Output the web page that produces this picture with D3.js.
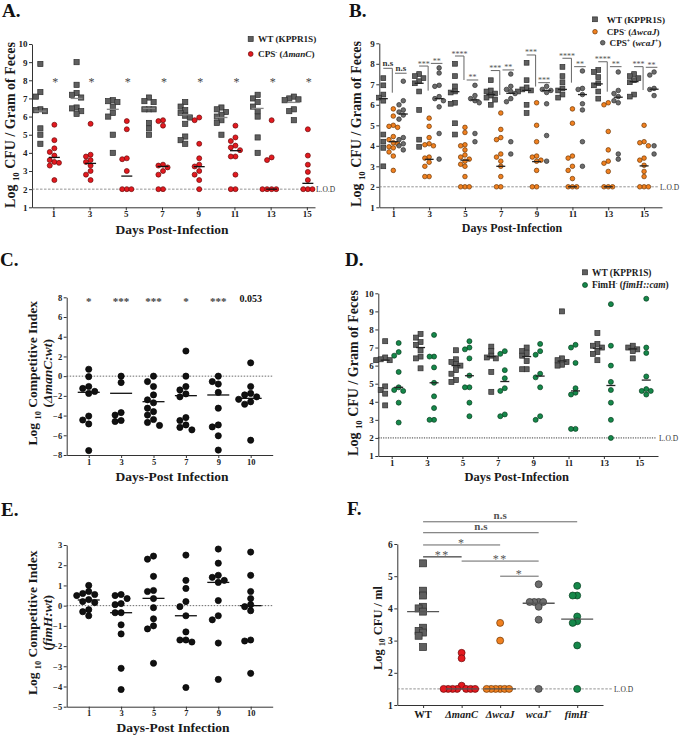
<!DOCTYPE html>
<html>
<head>
<meta charset="utf-8">
<script src="https://cdn.jsdelivr.net/npm/d3@7"></script>
<style>
  body { margin: 0; background: #fff; }
</style>
</head>
<body>
<svg id="fig" width="681" height="736"></svg>
<script>
// Colonization figure, panels A-F, drawn with D3 v7

// -----------------------------------------------------------------------------
// DATA
// -----------------------------------------------------------------------------

const daysAB = [1, 3, 5, 7, 9, 11, 13, 15];
const ticksA = [1, 2, 3, 4, 5, 6, 7, 8, 9, 10];
const ticksB = [1, 2, 3, 4, 5, 6, 7, 8, 9];

// A: WT vs CPS- (manC)
const wtA = [
  [8.9, 7.35, 7.1, 6.4, 6.35, 6.3, 5.35, 5.0, 4.5],
  [9.0, 7.75, 7.3, 7.2, 7.05, 6.5, 6.45, 6.3, 6.15],
  [6.9, 6.85, 6.8, 6.55, 6.2, 6.0, 5.0, 4.0],
  [7.05, 6.85, 6.8, 6.4, 6.4, 6.4, 5.65, 5.35, 5.0],
  [6.8, 6.55, 6.35, 6.2, 6.05, 5.95, 5.6, 4.9, 4.7, 4.5],
  [6.5, 6.4, 6.25, 6.1, 6.0, 5.8, 5.65, 5.0],
  [7.2, 7.0, 6.8, 6.55, 6.3, 6.0, 4.85, 4.0],
  [7.1, 7.0, 6.95, 6.9, 6.4, 6.3, 5.8]
];
const wtAMed = [6.3, 7.0, 6.4, 6.45, 6.1, 5.95, 6.45, 6.78];
const manC = [
  [5.55, 4.7, 4.25, 4.05, 3.85, 3.6, 3.5, 3.45, 3.3, 2.5],
  [5.6, 3.9, 3.8, 3.6, 3.5, 3.3, 3.0, 2.8, 2.5],
  [5.75, 5.3, 3.7, 3.65, 3.0, 2, 2, 2],
  [5.8, 5.75, 5.5, 3.35, 3.3, 3.2, 3.0, 2.8, 2, 2],
  [5.95, 5.8, 4.5, 3.7, 3.35, 3.25, 3.0, 2.8, 2.5, 2.0],
  [5.5, 4.85, 4.65, 4.4, 4.3, 4.15, 3.8, 3.8, 2.8, 2, 2],
  [5.8, 3.75, 3.6, 2, 2, 2, 2],
  [5.3, 3.85, 3.35, 2.95, 2.5, 2, 2, 2]
];
const manCMed = [3.75, 3.42, 2.72, 3.25, 3.24, 4.12, 2.0, 2.32];
const sigA = ['*', '*', '*', '*', '*', '*', '*', '*'];

// B: WT vs CPS- (wcaJ) vs CPS+ (wcaJ+)
const wtB = [
  [7.3, 6.95, 6.5, 6.35, 6.2, 4.55, 4.2, 3.9, 3.0],
  [7.5, 7.4, 7.3, 7.15, 7.05, 6.65, 5.75, 4.3, 3.95],
  [8.0, 7.4, 6.9, 6.65, 6.6, 6.1, 6.05, 5.1, 4.55],
  [7.2, 6.7, 6.65, 6.55, 6.45, 6.35, 6.25, 6.0],
  [8.05, 7.2, 6.85, 6.75, 6.7, 6.65, 6.0, 5.6],
  [7.85, 7.4, 7.1, 6.8, 6.7, 6.5, 6.35],
  [7.7, 7.6, 7.35, 7.05, 6.95, 6.65, 6.3],
  [7.5, 7.4, 7.3, 7.2, 7.1, 6.5, 6.4]
];
const wtBMed = [6.3, 7.05, 6.64, 6.5, 6.7, 6.75, 7.02, 7.13];
const wcaJ = [
  [5.8, 5.45, 5.0, 4.95, 4.9, 4.45, 4.3, 4.15, 4.1, 3.95, 3.9, 3.7, 3.5, 2.8],
  [5.35, 4.95, 4.4, 4.1, 4.05, 4.0, 3.45, 3.4, 3.2, 3.0, 2.5, 2.5],
  [4.9, 4.65, 4.05, 4.0, 3.8, 3.55, 3.45, 3.35, 3.25, 3.1, 3.0, 2.5, 2, 2, 2],
  [5.6, 4.8, 4.4, 4.3, 3.6, 3.45, 3.25, 3.0, 2.5, 2, 2],
  [6.1, 5.0, 4.2, 3.5, 3.45, 3.3, 3.25, 2.8, 2, 2],
  [5.8, 5.1, 3.5, 3.4, 3.0, 2.8, 2.4, 2, 2, 2],
  [6.1, 6.0, 4.7, 3.8, 3.25, 3.15, 2.75, 2, 2, 2],
  [5.0, 4.2, 4.15, 4.0, 3.4, 3.3, 3.05, 2.75, 2.5, 2, 2, 2]
];
const wcaJMed = [4.2, 3.34, 3.3, 3.0, 3.23, 2.0, 2.0, 3.02];
const wcaJc = [
  [7.15, 6.2, 6.0, 5.75, 5.65, 5.5, 5.3, 4.4, 4.3, 4.1, 4.0, 3.8],
  [7.8, 7.55, 6.95, 6.9, 6.4, 6.3, 6.2, 5.9, 4.6, 3.35],
  [6.95, 6.45, 6.3, 6.2, 6.1, 4.6, 4.2],
  [7.5, 6.9, 6.75, 6.65, 6.55, 6.3, 6.15, 4.2, 3.6],
  [6.9, 6.75, 6.7, 6.6, 6.05, 4.5, 3.25],
  [7.65, 6.8, 6.75, 6.5, 6.05, 5.75, 4.2, 3.0],
  [7.6, 6.7, 6.55, 6.4, 6.2, 6.1, 3.6, 3.35],
  [7.6, 7.45, 6.8, 6.75, 6.45, 4.0, 3.6]
];
const wcaJcMed = [5.55, 6.3, 6.24, 6.56, 6.7, 6.5, 6.37, 6.76];
// significance: WT vs CPS- (bracket top and leg end, log units) and CPS- vs CPS+
const sigB1 = ['n.s', '***', '****', '***', '***', '****', '****', '***'];
const sigB1Top = [7.78, 7.89, 8.38, 7.67, 8.43, 8.27, 8.1, 7.86];
const sigB1Leg = [6.59, 6.69, 7.21, 6.48, 6.89, 7.08, 6.64, 6.72];
const sigB2 = ['n.s', '**', '**', '**', '***', '**', '**', '**'];
const sigB2Top = [7.54, 8.02, 7.21, 7.7, 7.08, 7.86, 7.86, 7.83];

// C: competitive index manC:wt
const ciDays = ['1', '3', '5', '7', '9', '10'];
const ticksC = [-8, -6, -4, -2, 0, 2, 4, 6, 8];
const ciManC = [
  [0.7, -0.05, -1.05, -1.25, -1.55, -1.75, -4.05, -4.45, -4.85, -7.55],
  [0, -0.65, -3.7, -3.95, -4.5, -4.6],
  [0, -0.55, -1.05, -1.9, -2.4, -2.7, -3.25, -3.6, -3.95, -4.4, -4.7, -5.0],
  [2.55, 0, -1.05, -1.4, -1.8, -2.1, -4.2, -4.5, -4.95, -5.2, -5.45],
  [0, -0.55, -0.8, -1.65, -3.25, -4.95, -5.15, -6.05, -7.5],
  [1.35, -1.05, -1.75, -1.9, -2.1, -2.35, -2.6, -2.85, -6.5]
];
const ciManCMed = [-1.64, -1.74, -2.59, -1.98, -1.91, -2.25];
const ciManCSig = ['*', '***', '***', '*', '***', '0.053'];

// D: WT vs FimH-
const wtD = [
  [7.35, 6.45, 6.35, 6.3, 6.3, 4.85, 4.65, 4.45, 3.8],
  [7.75, 7.55, 7.3, 7.15, 6.85, 6.5, 6.4, 5.85],
  [6.85, 6.35, 6.2, 6.1, 6.0, 5.75, 5.55, 5.2, 5.1],
  [7.05, 6.8, 6.55, 6.45, 6.4, 5.65, 4.55],
  [7.0, 6.8, 6.7, 6.55, 6.25, 5.8, 5.8],
  [9.0, 6.4, 6.3, 6.2, 6.05, 6.0],
  [7.8, 7.2, 7.1, 7.0, 6.75, 6.65, 6.3],
  [7.1, 7.0, 6.9, 6.8, 6.4]
];
const wtDMed = [6.3, 7.0, 6.0, 6.5, 6.5, 6.25, 6.96, 6.92];
const fimH = [
  [7.25, 6.75, 6.55, 5.65, 4.8, 4.65, 4.6, 3.95, 2.85],
  [7.7, 6.5, 6.5, 5.9, 5.05, 4.3, 3.65, 3.0, 3.0],
  [7.35, 7.0, 6.9, 6.4, 5.45, 4.8, 4.8, 3.95, 3.2],
  [6.8, 6.65, 5.75, 5.3, 4.75, 4.6, 3.3, 3.2],
  [7.2, 6.8, 6.6, 5.55, 5.35, 4.8, 3.2, 3.0],
  [7.15, 7.0, 6.15, 4.75, 4.5, 4.4, 2.5, 2.5],
  [9.4, 7.1, 6.0, 5.1, 4.65, 3.95, 3.0, 2.0],
  [9.7, 7.0, 6.7, 5.4, 4.7, 4.6, 4.6, 4.4]
];
const fimHMed = [4.8, 5.05, 5.44, 5.12, 5.42, 4.6, 4.9, 5.2];

// E: competitive index fimH:wt
const ticksE = [-5, -4, -3, -2, -1, 0, 1, 2, 3];
const ciFimH = [
  [1.0, 0.7, 0.6, 0.55, 0.5, 0.3, 0.2, 0.15, -0.2, -0.3, -0.5],
  [0.55, 0.5, 0.35, 0.1, 0.05, -0.35, -0.35, -0.95, -1.4, -3.1, -4.15],
  [2.45, 2.3, 1.45, 0.75, 0.7, 0.35, -0.1, -0.65, -1.0, -1.15, -2.85],
  [2.5, 1.25, 0.85, 0.2, -0.05, -0.5, -1.3, -1.7, -1.7, -1.8, -4.05],
  [2.8, 2.1, 1.5, 1.4, 1.25, 1.15, 0.25, -0.5, -0.7, -1.85, -3.65],
  [2.65, 1.5, 0.7, 0.35, 0.05, -0.05, -0.25, -1.7, -1.75, -3.35]
];
const ciFimHMed = [0.28, -0.35, 0.36, -0.5, 1.15, 0.0];

// F: CFU / ml per strain
const bactCats = ['WT', 'ΔmanC', 'ΔwcaJ', 'wcaJ+', 'fimH-'];
const ticksF = [1, 2, 3, 4, 5, 6];
const bactVals = [
  [5.4, 4.55, 4.4, 4.05, 4.0, 3.9, 3.4, 3.3, 3.25, 3.15, 2.8],
  [2.62, 2.45, 1.6, 1.5, 1.5, 1.5, 1.5, 1.5, 1.5, 1.5],
  [3.55, 3.0, 1.5, 1.5, 1.5, 1.5, 1.5, 1.5],
  [4.75, 4.2, 4.2, 4.2, 4.2, 4.05, 3.65, 1.5],
  [4.7, 4.4, 4.4, 3.75, 3.6, 3.55, 2.85, 1.5]
];
const bactMed = [3.9, 1.5, 1.5, 4.16, 3.67];
const sigFFrom = [0, 0, 0, 0, 1, 2];
const sigFTo = [4, 3, 2, 1, 3, 3];
const sigFLabel = ['n.s', 'n.s', '*', '**', '**', '*'];
const sigFLevel = [6.69, 6.35, 5.97, 5.6, 5.47, 5.0];

// -----------------------------------------------------------------------------
// HELPERS
// -----------------------------------------------------------------------------

const FONT = '"Liberation Serif","Times New Roman",Times,serif';
const svg = d3.select('#fig').attr('font-family', FONT).attr('font-weight', 'bold');

const STY = {
  wt:     { shape: 'square', fill: '#5f5f5f', stroke: '#2e2e2e' },
  red:    { shape: 'circle', fill: '#e3191f', stroke: '#6a0a0a' },
  orange: { shape: 'circle', fill: '#f0801f', stroke: '#6e3605' },
  grey:   { shape: 'circle', fill: '#6c6c6c', stroke: '#2e2e2e' },
  green:  { shape: 'circle', fill: '#15884a', stroke: '#083d20' },
  black:  { shape: 'circle', fill: '#111', stroke: '#000' }
};

// spread overlapping points sideways, biggest value first
function dodge(vals, y, step) {
  const placed = [];
  const order = vals.map((v, i) => i).sort((a, b) => vals[b] - vals[a]);
  const out = new Array(vals.length);
  order.forEach(i => {
    const py = y(vals[i]);
    let dx = 0;
    for (let n = 0; n < 40; n++) {
      dx = n === 0 ? 0 : (n % 2 ? -1 : 1) * Math.ceil(n / 2) * step;
      if (placed.every(p => Math.hypot(p.dx - dx, p.py - py) >= step - 0.01)) break;
    }
    placed.push({ dx, py });
    out[i] = { dx, py };
  });
  return out;
}

function marker(g, sty, x, y, size) {
  if (sty.shape === 'square') {
    g.append('rect').attr('x', x - size / 2).attr('y', y - size / 2)
      .attr('width', size).attr('height', size)
      .attr('fill', sty.fill).attr('stroke', sty.stroke).attr('stroke-width', 0.7);
  } else {
    g.append('circle').attr('cx', x).attr('cy', y).attr('r', size / 2)
      .attr('fill', sty.fill).attr('stroke', sty.stroke).attr('stroke-width', 0.7);
  }
}

function drawGroups(g, xs, ys, cats, groups, step) {
  groups.forEach(gr => {
    cats.forEach((c, i) => {
      const cx = xs(c) + gr.off;
      dodge(gr.vals[i], ys, step).forEach(p => marker(g, gr.sty, cx + p.dx, p.py, gr.size));
    });
  });
  groups.forEach(gr => {
    cats.forEach((c, i) => {
      const cx = xs(c) + gr.off, my = ys(gr.med[i]);
      g.append('line').attr('x1', cx - gr.medW / 2).attr('x2', cx + gr.medW / 2)
        .attr('y1', my).attr('y2', my).attr('stroke', gr.medColor).attr('stroke-width', 1.3);
    });
  });
}

function styleAxis(sel, size) {
  sel.attr('font-family', FONT).attr('font-size', size).attr('font-weight', 'bold');
  sel.select('.domain').attr('stroke', '#333').attr('stroke-width', 1);
  sel.selectAll('.tick line').attr('stroke', '#333');
  sel.selectAll('.tick text').attr('fill', '#222');
}

// text with sub/superscript and italic pieces
function rich(g, x, y, rot, size, parts, anchor) {
  const t = g.append('text')
    .attr('transform', `translate(${x},${y}) rotate(${rot})`)
    .attr('text-anchor', anchor || 'middle').attr('font-size', size).attr('fill', '#1a1a1a');
  let shift = 0;
  parts.forEach(p => {
    const s = t.append('tspan').text(p.t);
    const target = p.sub ? size * 0.3 : p.sup ? -size * 0.38 : 0;
    if (target !== shift) { s.attr('dy', target - shift); shift = target; }
    if (p.sub || p.sup) s.attr('font-size', size * 0.62);
    if (p.it) s.attr('font-style', 'italic');
  });
  return t;
}

function lod(g, x0, x1, y) {
  g.append('line').attr('x1', x0).attr('x2', x1).attr('y1', y).attr('y2', y)
    .attr('stroke', '#777').attr('stroke-width', 0.8).attr('stroke-dasharray', '2.5,1.5');
  g.append('text').attr('x', x1 + 2).attr('y', y + 2.7).attr('font-size', 7.5)
    .attr('font-weight', 'normal').attr('fill', '#333').text('L.O.D');
}

function panelLabel(x, y, s) {
  svg.append('text').attr('x', x).attr('y', y).attr('font-size', 19).attr('fill', '#111').text(s);
}

const leftAxis = (y, ticks) => d3.axisLeft(y).tickValues(ticks).tickSize(3).tickPadding(1.5)
  .tickSizeOuter(0).tickFormat(d3.format('d'));
const bottomAxis = (x, ticks) => {
  const a = d3.axisBottom(x).tickSize(3).tickPadding(0.5).tickSizeOuter(0);
  return ticks ? a.tickValues(ticks).tickFormat(d3.format('d')) : a;
};

const LOG_CFU = [{ t: 'Log ' }, { t: '10', sub: 1 }, { t: ' CFU / Gram of Feces' }];

// -----------------------------------------------------------------------------
// PANEL A
// -----------------------------------------------------------------------------

panelLabel(2, 17, 'A.');
const gA = svg.append('g');
const xA = d3.scaleLinear().domain([-0.18, 15.45]).range([32, 315]);
const yA = d3.scaleLinear().domain([1, 10]).range([207.3, 44]);
gA.append('g').attr('transform', 'translate(32,0)').call(leftAxis(yA, ticksA)).call(styleAxis, 9);
gA.append('g').attr('transform', 'translate(0,207.3)').call(bottomAxis(xA, daysAB)).call(styleAxis, 9);
lod(gA, 32, 314, yA(2));
drawGroups(gA, xA, yA, daysAB, [
  { vals: wtA, med: wtAMed, off: -13, sty: STY.wt, size: 5.2, medW: 12, medColor: '#888' },
  { vals: manC, med: manCMed, off: 1, sty: STY.red, size: 5, medW: 11, medColor: '#111' }
], 4.6);
daysAB.forEach((d, i) => {
  gA.append('text').attr('x', xA(d) + 2).attr('y', yA(8) + 6).attr('text-anchor', 'middle')
    .attr('font-size', 12).attr('font-weight', 'normal').attr('fill', '#444').text(sigA[i]);
});
rich(gA, 15, 125, -90, 14, LOG_CFU);
rich(gA, 172, 233.5, 0, 13.5, [{ t: 'Days Post-Infection' }]);
marker(gA, STY.wt, 250.7, 39, 5);
rich(gA, 258, 42.3, 0, 9.2, [{ t: 'WT (KPPR1S)' }], 'start');
marker(gA, STY.red, 250.7, 54, 4.8);
rich(gA, 258, 57.3, 0, 9.2, [{ t: 'CPS' }, { t: '-', sup: 1 }, { t: ' (' }, { t: 'ΔmanC', it: 1 }, { t: ')' }], 'start');

// -----------------------------------------------------------------------------
// PANEL B
// -----------------------------------------------------------------------------

panelLabel(349, 17, 'B.');
const gB = svg.append('g');
const xB = d3.scaleLinear().domain([0.218, 16.0]).range([379.3, 662]);
const yB = d3.scaleLinear().domain([1, 9]).range([207.3, 43.3]);
gB.append('g').attr('transform', 'translate(379.3,0)').call(leftAxis(yB, ticksB)).call(styleAxis, 9);
gB.append('g').attr('transform', 'translate(0,207.3)').call(bottomAxis(xB, daysAB)).call(styleAxis, 9);
lod(gB, 379.3, 658, yB(2));
drawGroups(gB, xB, yB, daysAB, [
  { vals: wtB, med: wtBMed, off: -10, sty: STY.wt, size: 4.8, medW: 9, medColor: '#222' },
  { vals: wcaJ, med: wcaJMed, off: 0, sty: STY.orange, size: 4.6, medW: 9, medColor: '#222' },
  { vals: wcaJc, med: wcaJcMed, off: 10, sty: STY.grey, size: 4.6, medW: 9, medColor: '#222' }
], 4.3);
daysAB.forEach((d, i) => {
  const xt = xB(d);
  const y1 = yB(sigB1Top[i]);
  gB.append('path').attr('d', `M${xt - 10},${y1}H${xt - 1}V${yB(sigB1Leg[i])}`)
    .attr('fill', 'none').attr('stroke', '#666').attr('stroke-width', 1);
  const y2 = yB(sigB2Top[i]);
  gB.append('line').attr('x1', xt + 1.7).attr('x2', xt + 13.3).attr('y1', y2).attr('y2', y2)
    .attr('stroke', '#666').attr('stroke-width', 1);
  [[sigB1[i], xt - 5.5, y1], [sigB2[i], xt + 7.5, y2]].forEach(([s, x, y]) => {
    const ns = s === 'n.s';
    gB.append('text').attr('x', x).attr('y', ns ? y - 2.5 : y + 0.5).attr('text-anchor', 'middle')
      .attr('font-size', ns ? 9 : 8).attr('font-weight', ns ? 'bold' : 'normal')
      .attr('fill', ns ? '#333' : '#555').text(s);
  });
});
rich(gB, 361, 124, -90, 14, LOG_CFU);
rich(gB, 512, 232, 0, 12, [{ t: 'Days Post-Infection' }]);
marker(gB, STY.wt, 595, 19.3, 4.8);
rich(gB, 606.7, 22.6, 0, 9.2, [{ t: 'WT (KPPR1S)' }], 'start');
marker(gB, STY.orange, 595, 31.7, 4.6);
rich(gB, 606.7, 35, 0, 9.2, [{ t: 'CPS' }, { t: '-', sup: 1 }, { t: ' (' }, { t: 'ΔwcaJ', it: 1 }, { t: ')' }], 'start');
marker(gB, STY.grey, 602.7, 42.7, 4.6);
rich(gB, 609.5, 46, 0, 9.2, [{ t: 'CPS' }, { t: '+', sup: 1 }, { t: ' (' }, { t: 'wcaJ', it: 1 }, { t: '+', sup: 1 }, { t: ')' }], 'start');

// -----------------------------------------------------------------------------
// PANEL C / E (competitive index)
// -----------------------------------------------------------------------------

function ciPanel(g, yDomain, yRange, ticks, vals, med, yTitle2) {
  const x = d3.scalePoint().domain(ciDays).range([66.7, 272.7]).padding(0.68);
  const y = d3.scaleLinear().domain(yDomain).range(yRange);
  g.append('g').attr('transform', 'translate(66.7,0)').call(leftAxis(y, ticks)).call(styleAxis, 8.5);
  g.append('g').attr('transform', `translate(0,${yRange[0]})`).call(bottomAxis(x)).call(styleAxis, 8.5);
  g.append('line').attr('x1', 66.7).attr('x2', 272.7).attr('y1', y(0)).attr('y2', y(0))
    .attr('stroke', '#444').attr('stroke-width', 0.8).attr('stroke-dasharray', '1.5,1.5');
  drawGroups(g, x, y, ciDays, [
    { vals, med, off: 0, sty: STY.black, size: 6.2, medW: 22, medColor: '#111' }
  ], 6);
  const cy = (yRange[0] + yRange[1]) / 2 - 3;
  rich(g, 36.7, cy, -90, 13.5, [{ t: 'Log ' }, { t: '10', sub: 1 }, { t: ' Competitive Index' }]);
  rich(g, 51.5, cy, -90, 13.5, yTitle2);
  return x;
}

panelLabel(0, 266, 'C.');
const gC = svg.append('g');
const xC = ciPanel(gC, [-8, 8], [455, 297.3], ticksC, ciManC, ciManCMed,
  [{ t: '(' }, { t: 'ΔmanC:wt', it: 1 }, { t: ')' }]);
ciDays.forEach((d, i) => {
  const num = !ciManCSig[i].startsWith('*');
  gC.append('text').attr('x', xC(d)).attr('y', num ? 302 : 305).attr('text-anchor', 'middle')
    .attr('font-size', num ? 10 : 11).attr('font-weight', 'bold')
    .attr('fill', num ? '#111' : '#444').text(ciManCSig[i]);
});
rich(gC, 172, 481, 0, 13.5, [{ t: 'Days-Post Infection' }]);

panelLabel(1, 516, 'E.');
const gE = svg.append('g');
ciPanel(gE, [-5, 3], [706.7, 545], ticksE, ciFimH, ciFimHMed,
  [{ t: '(' }, { t: 'fimH:wt', it: 1 }, { t: ')' }]);
rich(gE, 173, 731.5, 0, 13.5, [{ t: 'Days-Post Infection' }]);

// -----------------------------------------------------------------------------
// PANEL D
// -----------------------------------------------------------------------------

panelLabel(345, 266, 'D.');
const gD = svg.append('g');
const xD = d3.scaleLinear().domain([0.243, 16.06]).range([378.3, 658]);
const yD = d3.scaleLinear().domain([1, 10]).range([456, 293.3]);
gD.append('g').attr('transform', 'translate(378.3,0)').call(leftAxis(yD, ticksA)).call(styleAxis, 9);
gD.append('g').attr('transform', 'translate(0,456)').call(bottomAxis(xD, daysAB)).call(styleAxis, 9);
gD.append('line').attr('x1', 378.3).attr('x2', 656).attr('y1', yD(2)).attr('y2', yD(2))
  .attr('stroke', '#222').attr('stroke-width', 0.9).attr('stroke-dasharray', '1.2,1.2');
gD.append('text').attr('x', 659).attr('y', yD(2) + 2.7).attr('font-size', 7.5)
  .attr('font-weight', 'normal').attr('fill', '#333').text('L.O.D');
drawGroups(gD, xD, yD, daysAB, [
  { vals: wtD, med: wtDMed, off: -6.5, sty: STY.wt, size: 5, medW: 9, medColor: '#222' },
  { vals: fimH, med: fimHMed, off: 7, sty: STY.green, size: 5, medW: 9, medColor: '#222' }
], 4.5);
rich(gD, 358, 373, -90, 14, LOG_CFU);
rich(gD, 516.7, 481, 0, 12.5, [{ t: 'Days Post-Infection' }]);
marker(gD, STY.wt, 585, 272.3, 5);
rich(gD, 592, 275.6, 0, 9.4, [{ t: 'WT (KPPR1S)' }], 'start');
marker(gD, STY.green, 585, 285, 5);
rich(gD, 592, 288.3, 0, 9.4, [{ t: 'FimH' }, { t: '-', sup: 1 }, { t: ' (' }, { t: 'fimH::cam', it: 1 }, { t: ')' }], 'start');

// -----------------------------------------------------------------------------
// PANEL F
// -----------------------------------------------------------------------------

panelLabel(347, 515, 'F.');
const gF = svg.append('g');
const xF = d3.scalePoint().domain(bactCats).range([397.3, 603]).padding(0.67);
const yF = d3.scaleLinear().domain([1, 6]).range([705, 544]);
const bactStyle = [STY.wt, STY.red, STY.orange, STY.grey, STY.green];
gF.append('g').attr('transform', 'translate(397.3,0)').call(leftAxis(yF, ticksF)).call(styleAxis, 9.5);
gF.append('g').attr('transform', 'translate(0,705)').call(bottomAxis(xF).tickFormat(''))
  .call(styleAxis, 10);
bactCats.forEach(c => {
  const m = c.match(/^(.*?)([+-])?$/);
  const parts = [{ t: m[1], it: c !== 'WT' }];
  if (m[2]) parts.push({ t: m[2], sup: 1 });
  rich(gF, xF(c), 718, 0, 10.5, parts);
});
lod(gF, 397.3, 612, yF(1.5));
bactCats.forEach((c, i) => {
  dodge(bactVals[i], yF, 4.5).forEach(p => marker(gF, bactStyle[i], xF(c) + p.dx, p.py, 7));
});
bactCats.forEach((c, i) => {
  const my = yF(bactMed[i]);
  gF.append('line').attr('x1', xF(c) - 16).attr('x2', xF(c) + 16).attr('y1', my).attr('y2', my)
    .attr('stroke', '#555').attr('stroke-width', 1.3);
});
sigFLabel.forEach((s, i) => {
  const x1 = xF(bactCats[sigFFrom[i]]), x2 = xF(bactCats[sigFTo[i]]), y = yF(sigFLevel[i]);
  const dark = i === 3;
  gF.append('line').attr('x1', x1).attr('x2', x2).attr('y1', y).attr('y2', y)
    .attr('stroke', dark ? '#111' : '#666').attr('stroke-width', 1);
  const ns = s === 'n.s';
  gF.append('text').attr('x', (x1 + x2) / 2).attr('y', ns ? y - 2.5 : y + 2)
    .attr('text-anchor', 'middle').attr('font-size', ns ? 11 : 12)
    .attr('font-weight', ns ? 'bold' : 'normal').attr('letter-spacing', ns ? 0 : 1.5)
    .attr('fill', '#555').text(s);
});
rich(gF, 381.5, 628, -90, 12.5, [{ t: 'Log ' }, { t: '10', sub: 1 }, { t: ' CFU / ml' }]);
</script>
</body>
</html>
